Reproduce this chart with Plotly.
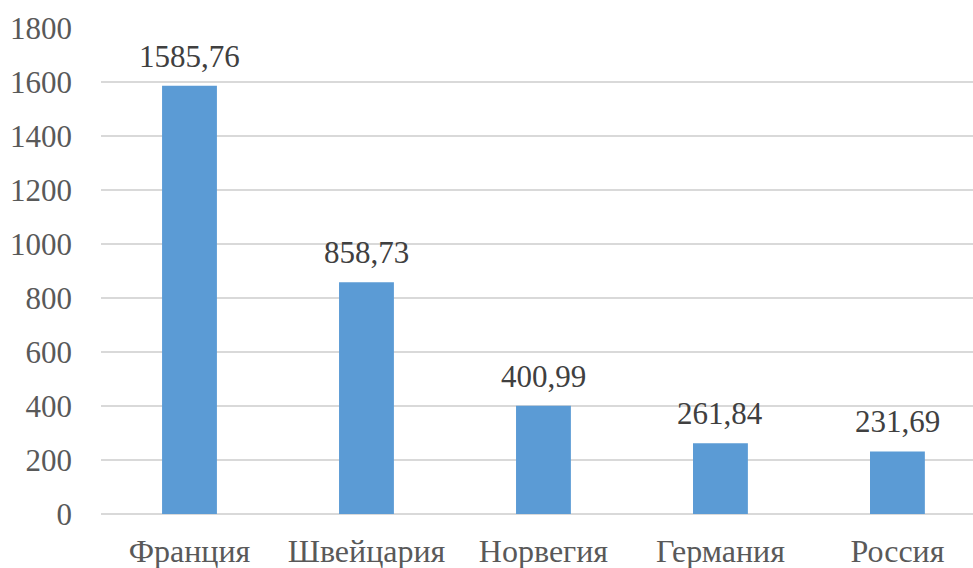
import plotly.graph_objects as go

countries = ["Франция", "Швейцария", "Норвегия", "Германия", "Россия"]
values = [1585.76, 858.73, 400.99, 261.84, 231.69]
y_ticks = [0, 200, 400, 600, 800, 1000, 1200, 1400, 1600, 1800]

FONT = "Liberation Serif, Times New Roman, serif"

fig = go.Figure(go.Bar(
    x=countries,
    y=values,
    width=0.31,
    marker=dict(color="#5B9BD5", line=dict(width=0)),
    cliponaxis=False,
    hoverinfo="skip",
))

for c, v in zip(countries, values):
    fig.add_annotation(
        x=c, y=v, text=f"{v:.2f}".replace(".", ","),
        showarrow=False, yanchor="bottom", yshift=10,
        font=dict(family=FONT, size=31, color="#404040"),
    )

fig.update_layout(
    width=973, height=568,
    margin=dict(l=101, r=0, t=28, b=54, autoexpand=False),
    paper_bgcolor="white", plot_bgcolor="white",
    showlegend=False,
    font=dict(family=FONT, size=31, color="#595959"),
    bargap=0.69,
)
fig.update_xaxes(
    range=[-0.5, 4.427], automargin=False,
    showgrid=False, showline=False, zeroline=False,
    ticks="", ticklabelstandoff=15,
    tickfont=dict(family=FONT, size=32, color="#595959"),
)
fig.update_yaxes(
    range=[0, 1800], tickvals=y_ticks, automargin=False,
    showgrid=True, gridcolor="#D9D9D9", gridwidth=1.3,
    zeroline=True, zerolinecolor="#D9D9D9", zerolinewidth=1.3,
    showline=False, ticks="", ticklabelstandoff=28,
    tickfont=dict(family=FONT, size=31, color="#595959"),
)

fig.write_html(
    "out.html",
    config={"displayModeBar": False, "staticPlot": True},
    post_script="document.body.style.margin='0';document.body.style.overflow='hidden';",
)
